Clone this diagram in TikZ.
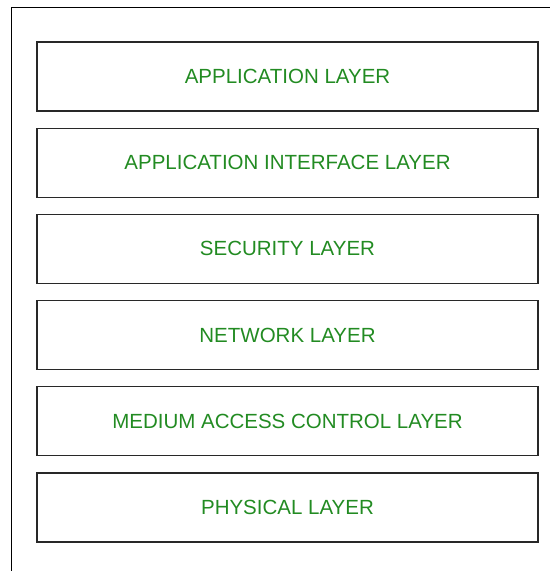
\documentclass[tikz,border=0pt]{standalone}
\usepackage{fontspec}
\setmainfont{Liberation Sans}
\usetikzlibrary{positioning}
\definecolor{layergreen}{RGB}{34,139,34}
\definecolor{boxgray}{RGB}{40,40,40}

\begin{document}
\begin{tikzpicture}[
    x=1pt, y=-1pt,
    node distance=15.9pt,
    every node/.style={font=\fontsize{20.5}{24}\selectfont},
    layer/.style={draw=boxgray, line width=1.3pt, text=layergreen,
        minimum width=501pt, minimum height=69pt, inner sep=0pt}
]
   \useasboundingbox (0,0) rectangle (550,571);

   % outer frame (only top and left edges visible)
   \draw[line width=1pt] (11.7,571) -- (11.7,7.5) -- (550,7.5);

   % protocol stack, top to bottom
   \node[layer] (app) at (287.5,76.5) {APPLICATION LAYER};
   \node[layer] (api) [below=of app] {APPLICATION INTERFACE LAYER};
   \node[layer] (sec) [below=of api] {SECURITY LAYER};
   \node[layer] (net) [below=of sec] {NETWORK LAYER};
   \node[layer] (mac) [below=of net] {MEDIUM ACCESS CONTROL LAYER};
   \node[layer] (phy) [below=of mac] {PHYSICAL LAYER};
\end{tikzpicture}
\end{document}
